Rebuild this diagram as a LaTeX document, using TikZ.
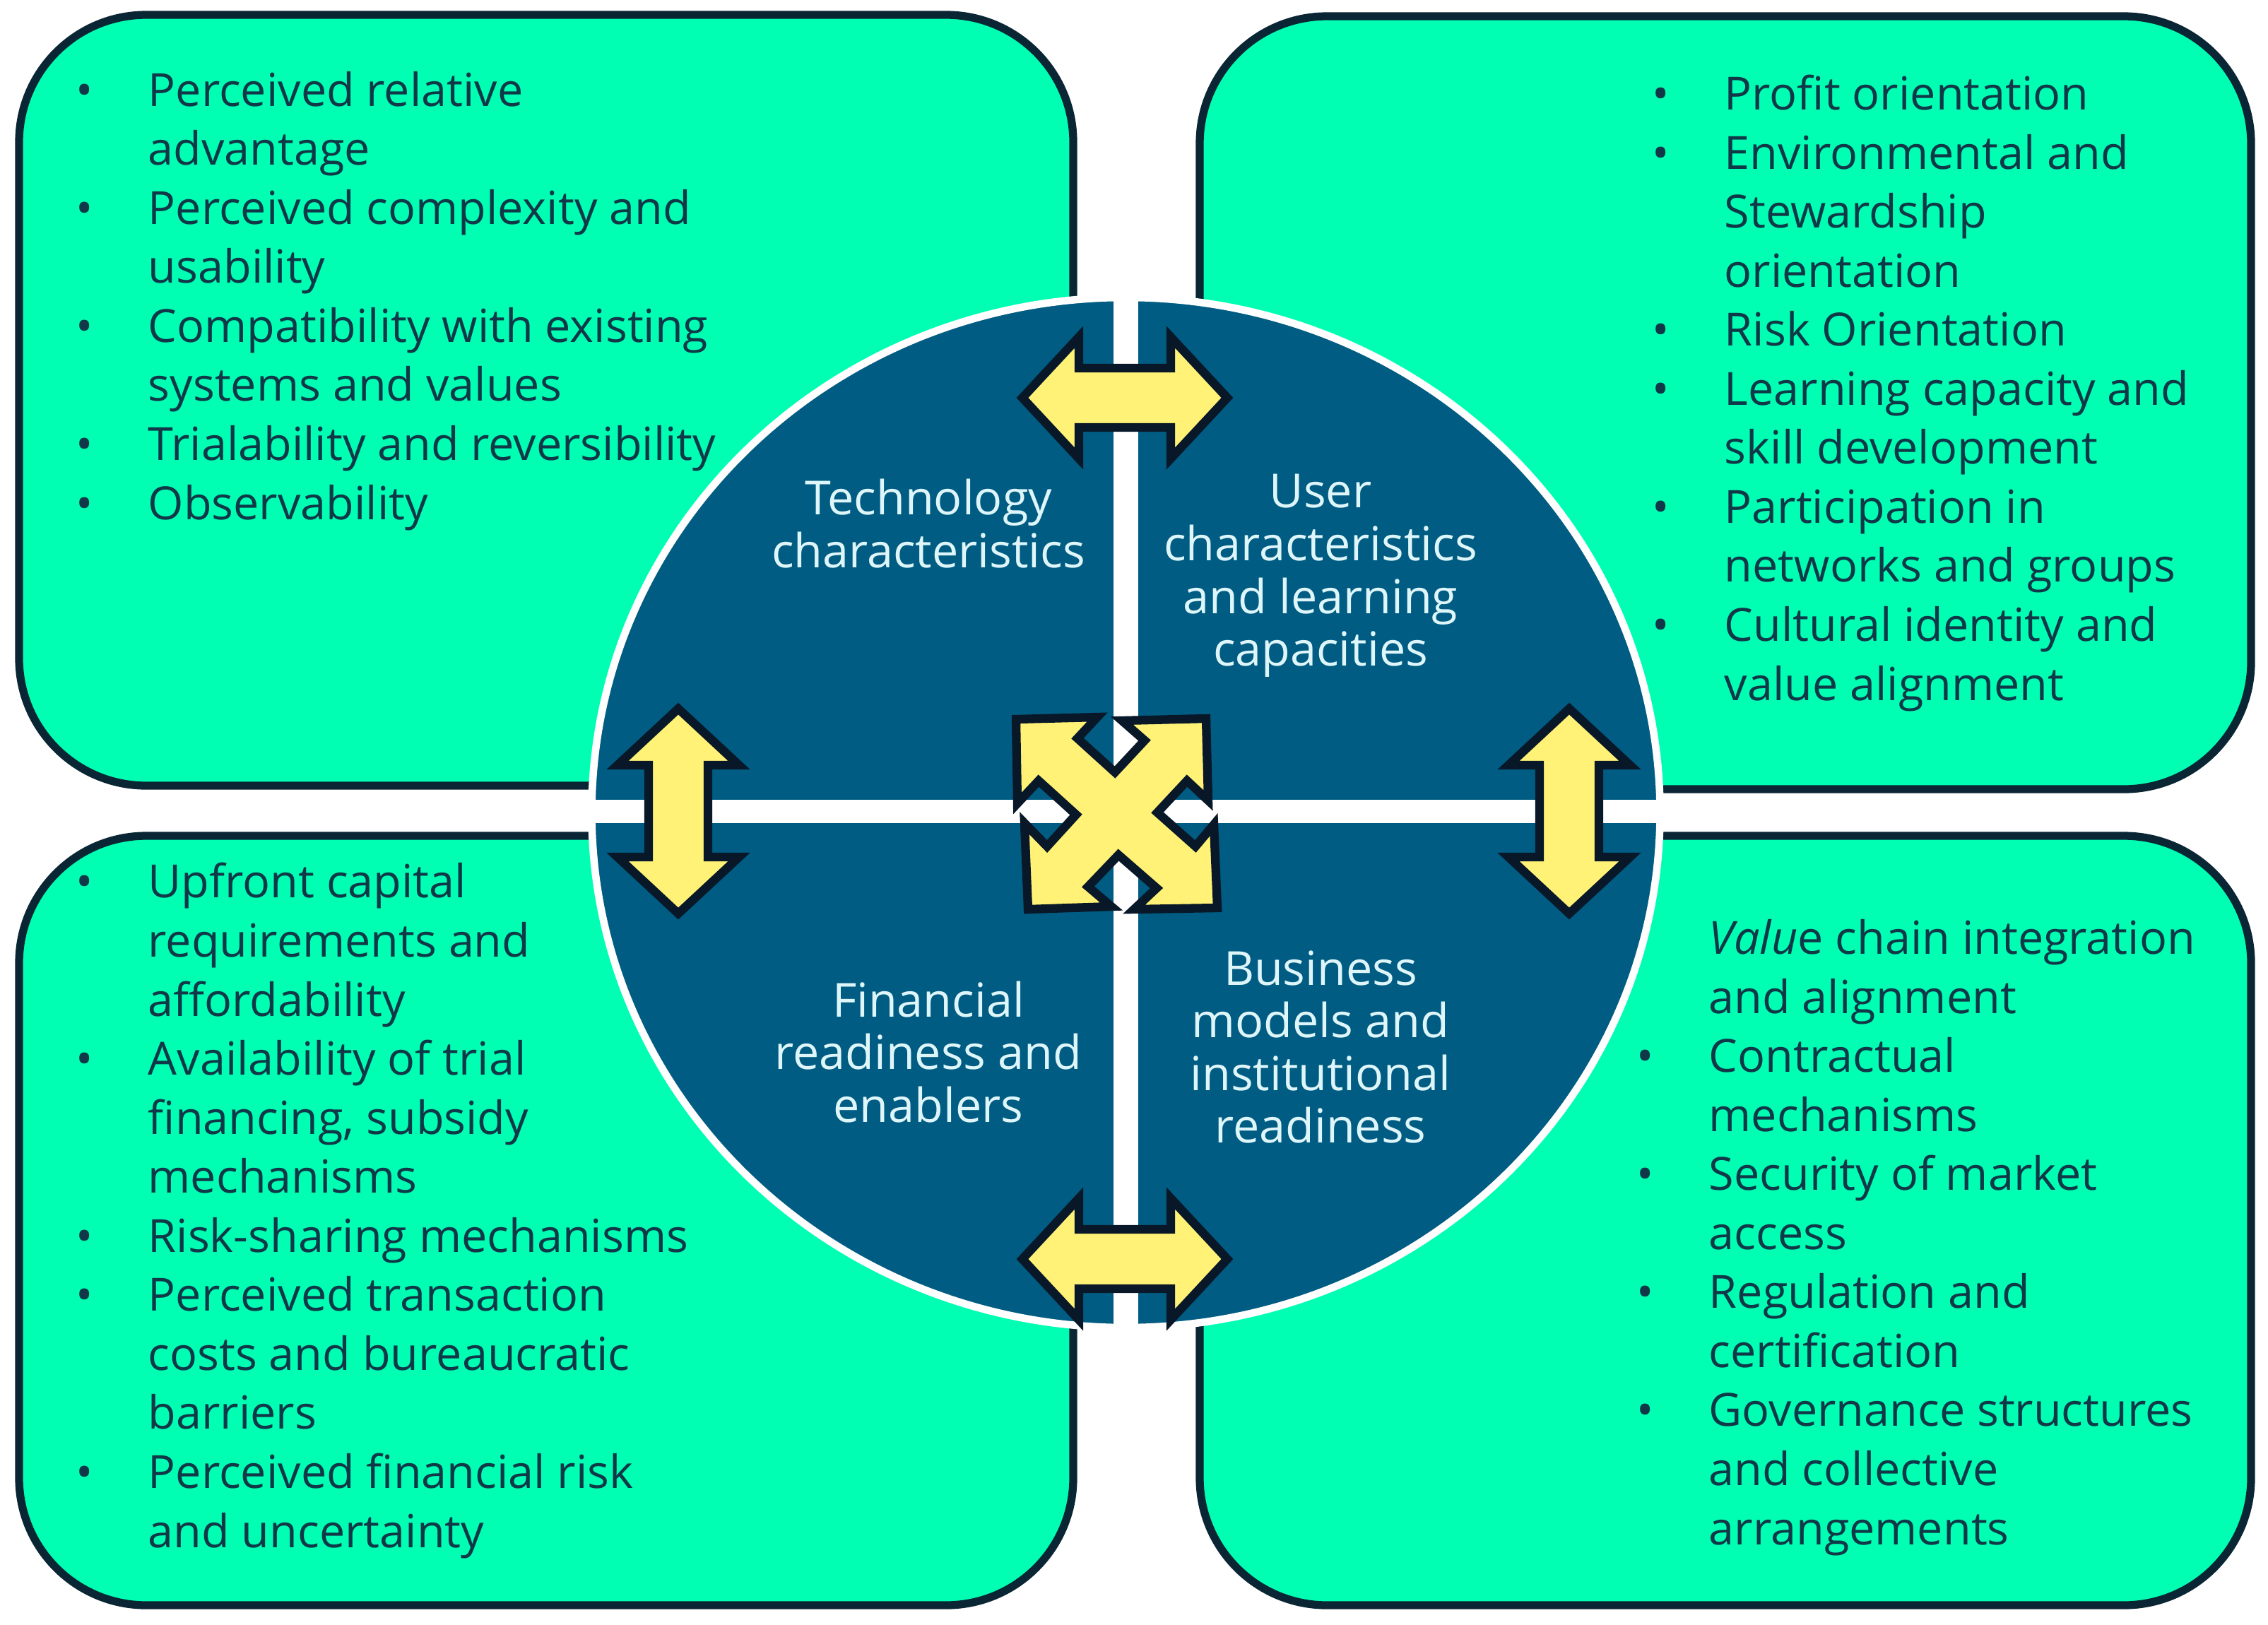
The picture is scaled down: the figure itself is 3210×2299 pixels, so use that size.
\documentclass[tikz,border=0pt]{standalone}
\usepackage{fontspec}
\setmainfont{Open Sans}
\definecolor{boxgreen}{RGB}{0,255,178}
\definecolor{boxline}{RGB}{10,38,52}
\definecolor{txtdark}{RGB}{16,56,72}
\definecolor{circblue}{RGB}{0,92,130}
\definecolor{circtxt}{RGB}{222,246,250}
\definecolor{arrowyellow}{RGB}{255,242,118}
\definecolor{arrowline}{RGB}{8,24,40}
\newcommand\myb{\makebox[1.02cm][l]{•}}
\newcommand\myi{\hspace*{1.02cm}}
\tikzset{
  greenbox/.style={fill=boxgreen, draw=boxline, line width=3.2, rounded corners=1.8cm},
  boxtext/.style={anchor=base west, align=left, inner sep=0pt, text=txtdark,
    font=\fontsize{18.4pt}{23.76pt}\selectfont},
  circtext/.style={anchor=center, align=center, inner sep=0pt, text=circtxt,
    font=\fontsize{18.9pt}{21.2pt}\selectfont},
  arrowshape/.style={fill=arrowyellow, draw=arrowline, line width=3.5, line join=miter},
  harrow/.pic={\draw[arrowshape] (-145,0) -- (-65,-86) -- (-65,-42) -- (65,-42) -- (65,-86)
     -- (145,0) -- (65,86) -- (65,42) -- (-65,42) -- (-65,86) -- cycle;}
}
\begin{document}
\begin{tikzpicture}[x=0.01cm,y=-0.01cm]
\useasboundingbox (0,0) rectangle (3210,2299);
% four green boxes
\draw[greenbox] (27,21) rectangle (1519,1112);
\draw[greenbox] (1698,23) rectangle (3186,1117);
\draw[greenbox] (27,1183) rectangle (1519,2272);
\draw[greenbox] (1698,1183) rectangle (3186,2272);
% box texts (anchored at the baseline of their last line)
\node[boxtext] (tl) at (107,735) {\myb Perceived relative\\ \myi advantage\\ \myb Perceived complexity and\\ \myi usability\\ \myb Compatibility with existing\\ \myi systems and values\\ \myb Trialability and reversibility\\ \myb Observability};
\node[boxtext] (tr) at (2338,991) {\myb Profit orientation\\ \myb Environmental and\\ \myi Stewardship\\ \myi orientation\\ \myb Risk Orientation\\ \myb Learning capacity and\\ \myi skill development\\ \myb Participation in\\ \myi networks and groups\\ \myb Cultural identity and\\ \myi value alignment};
\node[boxtext] (bl) at (107,2190) {\myb Upfront capital\\ \myi requirements and\\ \myi affordability\\ \myb Availability of trial\\ \myi financing, subsidy\\ \myi mechanisms\\ \myb Risk-sharing mechanisms\\ \myb Perceived transaction\\ \myi costs and bureaucratic\\ \myi barriers\\ \myb Perceived financial risk\\ \myi and uncertainty};
\node[boxtext] (br) at (2316,2186) {\myi \textit{Valu}e chain integration\\ \myi and alignment\\ \myb Contractual\\ \myi mechanisms\\ \myb Security of market\\ \myi access\\ \myb Regulation and\\ \myi certification\\ \myb Governance structures\\ \myi and collective\\ \myi arrangements};
% central circle
\fill[circblue, draw=white, line width=3] (1593.5,1150) ellipse [x radius=756, y radius=729];
\fill[white] (1576,400) rectangle (1611,1900);
\fill[white] (820,1132) rectangle (2370,1165);
% circle texts
\node[circtext] (tech) at (1314,741) {Technology\\characteristics};
\node[circtext] (user) at (1869,815) {User\\characteristics\\and learning\\capacities};
\node[circtext] (fin) at (1314,1489) {Financial\\readiness and\\enablers};
\node[circtext] (bus) at (1869,1482) {Business\\models and\\institutional\\readiness};
% double arrows
\pic at (1592,563) {harrow};
\pic at (1592,1782) {harrow};
\pic[rotate=90] at (960,1148) {harrow};
\pic[rotate=90] at (2221,1148) {harrow};
% central four-way arrow
\draw[arrowshape] (1438,1018) -- (1553,1015) -- (1525,1045) -- (1578,1093) -- (1620,1048)
  -- (1588,1020) -- (1707,1017) -- (1710,1133) -- (1680,1105) -- (1638,1150)
  -- (1692,1198) -- (1718,1167) -- (1723,1285) -- (1605,1287) -- (1637,1257)
  -- (1583,1210) -- (1540,1255) -- (1573,1283) -- (1455,1287) -- (1450,1165)
  -- (1482,1198) -- (1523,1153) -- (1470,1105) -- (1440,1137) -- cycle;
\end{tikzpicture}
\end{document}
